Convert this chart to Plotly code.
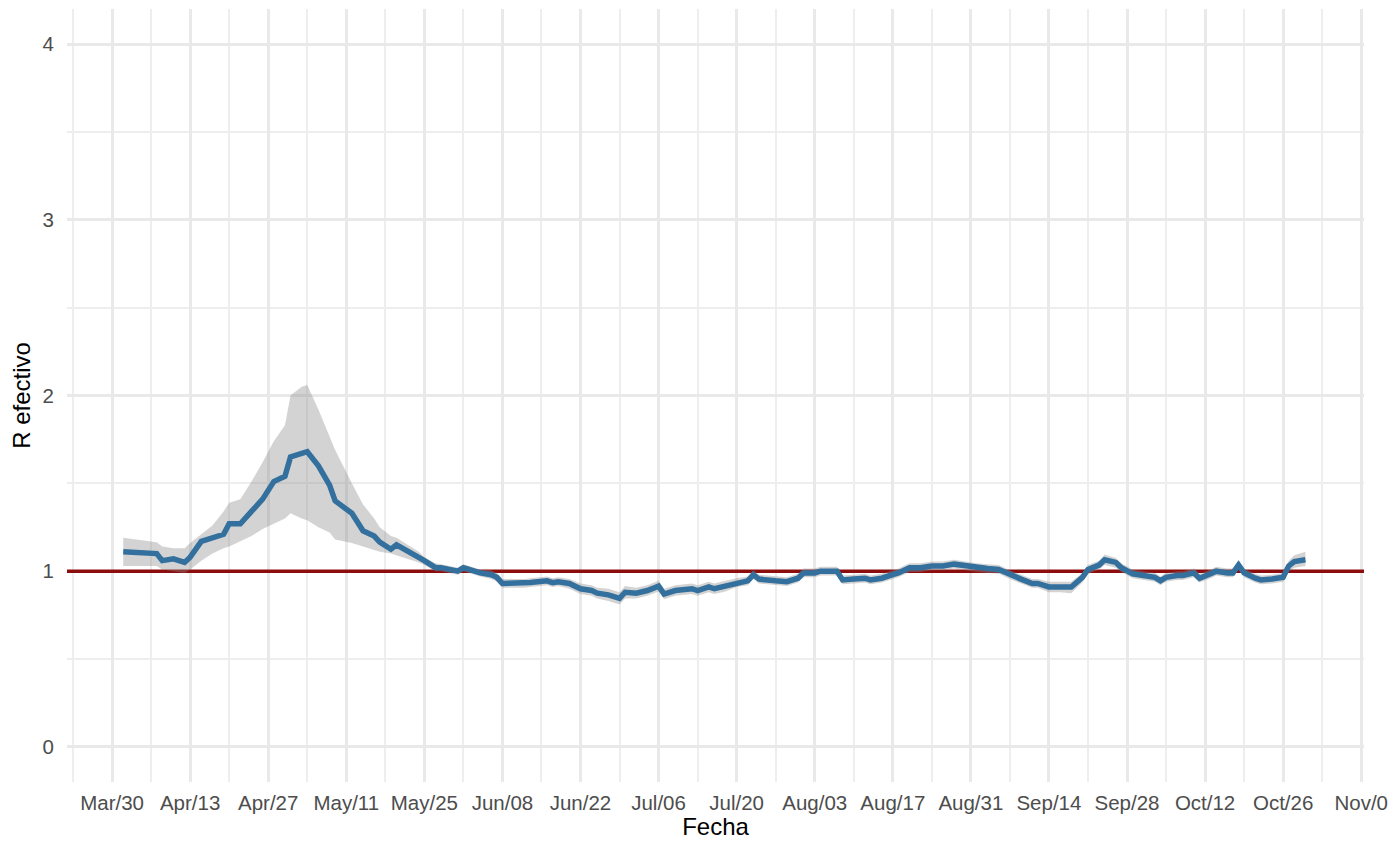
import plotly.graph_objects as go

# ---- data ----
dates = [
    "2020-04-01", "2020-04-05", "2020-04-07", "2020-04-08", "2020-04-10", "2020-04-12",
    "2020-04-13", "2020-04-15", "2020-04-17", "2020-04-19", "2020-04-20", "2020-04-22",
    "2020-04-24", "2020-04-26", "2020-04-28", "2020-04-30", "2020-05-01", "2020-05-03",
    "2020-05-04", "2020-05-06", "2020-05-08", "2020-05-09", "2020-05-12", "2020-05-14",
    "2020-05-16", "2020-05-17", "2020-05-19", "2020-05-20", "2020-05-22", "2020-05-24",
    "2020-05-25", "2020-05-27", "2020-05-28", "2020-05-31", "2020-06-01", "2020-06-02",
    "2020-06-04", "2020-06-06", "2020-06-07", "2020-06-08", "2020-06-10", "2020-06-12",
    "2020-06-13", "2020-06-16", "2020-06-17", "2020-06-18", "2020-06-20", "2020-06-22",
    "2020-06-24", "2020-06-25", "2020-06-27", "2020-06-29", "2020-06-30", "2020-07-02",
    "2020-07-04", "2020-07-06", "2020-07-07", "2020-07-09", "2020-07-12", "2020-07-13",
    "2020-07-15", "2020-07-16", "2020-07-18", "2020-07-20", "2020-07-22", "2020-07-23",
    "2020-07-24", "2020-07-27", "2020-07-29", "2020-07-31", "2020-08-01", "2020-08-03",
    "2020-08-04", "2020-08-07", "2020-08-08", "2020-08-10", "2020-08-12", "2020-08-13",
    "2020-08-15", "2020-08-17", "2020-08-18", "2020-08-20", "2020-08-22", "2020-08-24",
    "2020-08-26", "2020-08-28", "2020-08-30", "2020-09-01", "2020-09-03", "2020-09-05",
    "2020-09-07", "2020-09-09", "2020-09-11", "2020-09-12", "2020-09-14", "2020-09-16",
    "2020-09-18", "2020-09-20", "2020-09-21", "2020-09-23", "2020-09-24", "2020-09-26",
    "2020-09-27", "2020-09-29", "2020-10-01", "2020-10-03", "2020-10-04", "2020-10-05",
    "2020-10-07", "2020-10-08", "2020-10-10", "2020-10-11", "2020-10-13", "2020-10-14",
    "2020-10-16", "2020-10-17", "2020-10-18", "2020-10-19", "2020-10-21", "2020-10-22",
    "2020-10-24", "2020-10-26", "2020-10-27", "2020-10-28", "2020-10-30",
]

r_eff = [
    1.11, 1.10, 1.10, 1.06, 1.07, 1.05,
    1.08, 1.17, 1.19, 1.21, 1.27, 1.27,
    1.34, 1.41, 1.51, 1.54, 1.65, 1.67,
    1.68, 1.60, 1.49, 1.40, 1.33, 1.23,
    1.20, 1.165, 1.125, 1.15, 1.115, 1.085,
    1.06, 1.02, 1.02, 1.00, 1.02, 1.01,
    0.99, 0.98, 0.965, 0.93, 0.93, 0.93,
    0.935, 0.945, 0.935, 0.94, 0.93, 0.90,
    0.89, 0.875, 0.865, 0.845, 0.88, 0.875,
    0.89, 0.915, 0.87, 0.89, 0.90, 0.89,
    0.91, 0.90, 0.915, 0.935, 0.945, 0.98,
    0.955, 0.945, 0.94, 0.96, 0.99, 0.99,
    1.00, 1.00, 0.95, 0.955, 0.96, 0.95,
    0.96, 0.98, 0.99, 1.02, 1.02, 1.03,
    1.03, 1.04, 1.03, 1.02, 1.015, 1.01,
    0.98, 0.955, 0.93, 0.93, 0.91, 0.91,
    0.91, 0.965, 1.01, 1.035, 1.065, 1.05,
    1.02, 0.985, 0.975, 0.965, 0.945, 0.965,
    0.975, 0.975, 0.99, 0.96, 0.985, 1.00,
    0.99, 0.99, 1.035, 0.99, 0.96, 0.95,
    0.955, 0.965, 1.03, 1.055, 1.065,
]

r_hi = [
    1.19, 1.175, 1.165, 1.14, 1.13, 1.13,
    1.16, 1.21, 1.26, 1.34, 1.39, 1.41,
    1.51, 1.62, 1.74, 1.83, 2.00, 2.05,
    2.06, 1.92, 1.76, 1.69, 1.50, 1.38,
    1.30, 1.25, 1.20, 1.19, 1.15, 1.11,
    1.08, 1.045, 1.04, 1.02, 1.04, 1.03,
    1.01, 1.005, 0.99, 0.955, 0.955, 0.955,
    0.96, 0.97, 0.96, 0.965, 0.955, 0.93,
    0.92, 0.905, 0.90, 0.88, 0.915, 0.905,
    0.92, 0.945, 0.90, 0.92, 0.93, 0.92,
    0.94, 0.93, 0.945, 0.96, 0.97, 1.005,
    0.98, 0.97, 0.965, 0.985, 1.015, 1.015,
    1.025, 1.025, 0.975, 0.98, 0.985, 0.975,
    0.985, 1.005, 1.015, 1.045, 1.045, 1.055,
    1.055, 1.065, 1.055, 1.045, 1.04, 1.035,
    1.005, 0.98, 0.955, 0.955, 0.94, 0.94,
    0.94, 0.99, 1.035, 1.06, 1.095, 1.075,
    1.045, 1.01, 1.00, 0.99, 0.97, 0.99,
    1.00, 1.00, 1.015, 0.985, 1.01, 1.025,
    1.015, 1.015, 1.06, 1.015, 0.985, 0.975,
    0.98, 0.99, 1.06, 1.09, 1.11,
]

r_lo = [
    1.03, 1.03, 1.03, 1.01, 1.00, 0.99,
    1.01, 1.06, 1.10, 1.13, 1.14, 1.17,
    1.20, 1.24, 1.27, 1.30, 1.33, 1.30,
    1.29, 1.25, 1.22, 1.18, 1.16, 1.14,
    1.12, 1.11, 1.10, 1.09, 1.07, 1.05,
    1.035, 1.00, 1.00, 0.98, 1.00, 0.99,
    0.97, 0.955, 0.94, 0.905, 0.905, 0.905,
    0.91, 0.92, 0.91, 0.915, 0.90, 0.87,
    0.86, 0.845, 0.83, 0.81, 0.845, 0.845,
    0.86, 0.885, 0.84, 0.86, 0.87, 0.86,
    0.88, 0.87, 0.885, 0.91, 0.92, 0.955,
    0.93, 0.92, 0.915, 0.935, 0.965, 0.965,
    0.975, 0.975, 0.925, 0.93, 0.935, 0.925,
    0.935, 0.955, 0.965, 0.995, 0.995, 1.005,
    1.005, 1.015, 1.005, 0.995, 0.99, 0.985,
    0.955, 0.93, 0.905, 0.905, 0.88, 0.88,
    0.875, 0.935, 0.985, 1.01, 1.035, 1.02,
    0.995, 0.96, 0.95, 0.94, 0.92, 0.94,
    0.95, 0.95, 0.965, 0.935, 0.96, 0.975,
    0.965, 0.965, 1.01, 0.965, 0.935, 0.925,
    0.93, 0.94, 1.00, 1.02, 1.03,
]

tick_dates = [
    "2020-03-30", "2020-04-13", "2020-04-27", "2020-05-11", "2020-05-25", "2020-06-08",
    "2020-06-22", "2020-07-06", "2020-07-20", "2020-08-03", "2020-08-17", "2020-08-31",
    "2020-09-14", "2020-09-28", "2020-10-12", "2020-10-26", "2020-11-09",
]
tick_labels = [
    "Mar/30", "Apr/13", "Apr/27", "May/11", "May/25", "Jun/08",
    "Jun/22", "Jul/06", "Jul/20", "Aug/03", "Aug/17", "Aug/31",
    "Sep/14", "Sep/28", "Oct/12", "Oct/26", "Nov/0",
]
y_ticks = [0, 1, 2, 3, 4]
threshold = 1

x_range = ["2020-03-21 22:00", "2020-11-09 12:00"]
y_range = [-0.2, 4.2]

FONT = "Liberation Sans, Arial, sans-serif"
WEEK_MS = 7 * 24 * 3600 * 1000

fig = go.Figure()

# threshold line R = 1, drawn first so the ribbon sits over it
fig.add_trace(go.Scatter(
    x=x_range, y=[threshold, threshold], mode="lines",
    line=dict(color="#8b0d0d", width=3.4),
    hoverinfo="skip", showlegend=False,
))
# ribbon
fig.add_trace(go.Scatter(
    x=dates, y=r_hi, mode="lines", line=dict(width=0, color="rgba(0,0,0,0)"),
    hoverinfo="skip", showlegend=False,
))
fig.add_trace(go.Scatter(
    x=dates, y=r_lo, mode="lines", line=dict(width=0, color="rgba(0,0,0,0)"),
    fill="tonexty", fillcolor="rgba(140,140,140,0.38)",
    hoverinfo="skip", showlegend=False,
))
# central estimate
fig.add_trace(go.Scatter(
    x=dates, y=r_eff, mode="lines",
    line=dict(color="#33709e", width=5.5),
    showlegend=False,
))

fig.update_layout(
    width=1389, height=838,
    margin=dict(l=59, r=33, t=1, b=64),
    paper_bgcolor="white", plot_bgcolor="white",
    font=dict(family=FONT, color="#4d4d4d", size=20),
    showlegend=False,
)

fig.update_xaxes(
    range=x_range, type="date",
    tickmode="array", tickvals=tick_dates, ticktext=tick_labels,
    showgrid=True, gridcolor="#e9e9e9", gridwidth=2.8,
    zeroline=False, showline=False, ticks="",
    ticklabelstandoff=6,
    tickfont=dict(family=FONT, size=20.5, color="#4d4d4d"),
    minor=dict(tickmode="linear", tick0="2020-03-23", dtick=WEEK_MS,
               showgrid=True, gridcolor="#eeeeee", gridwidth=1.8, ticks=""),
    title=dict(text="Fecha", font=dict(family=FONT, size=24, color="black"), standoff=2),
)

fig.update_yaxes(
    range=y_range, tickmode="array", tickvals=y_ticks,
    showgrid=True, gridcolor="#e9e9e9", gridwidth=2.8,
    zeroline=False, showline=False, ticks="",
    ticklabelstandoff=12,
    tickfont=dict(family=FONT, size=20.5, color="#4d4d4d"),
    minor=dict(tickmode="linear", tick0=0.5, dtick=1,
               showgrid=True, gridcolor="#eeeeee", gridwidth=1.8, ticks=""),
    title=dict(text="R efectivo", font=dict(family=FONT, size=24, color="black"), standoff=10),
)

fig.write_html("out.html")
